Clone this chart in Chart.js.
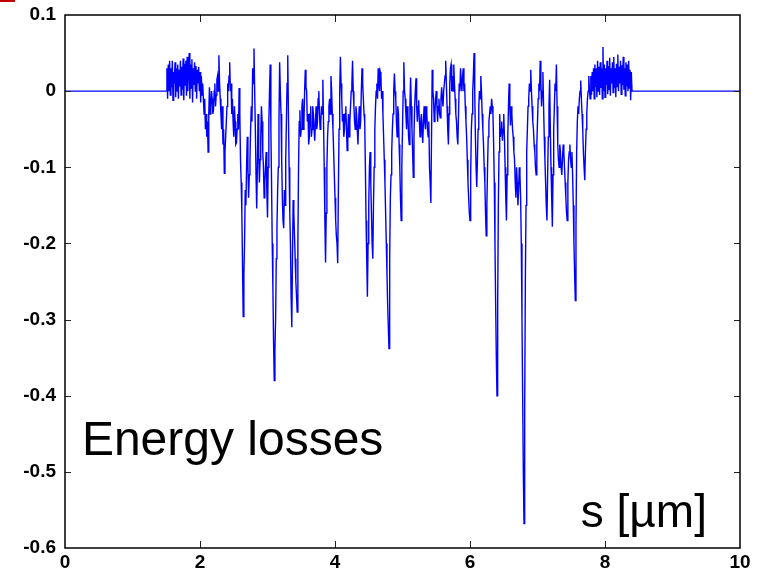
<!DOCTYPE html>
<html>
<head>
<meta charset="utf-8">
<title>Energy losses</title>
<script src="https://cdn.jsdelivr.net/npm/chart.js@4.4.0/dist/chart.umd.min.js"></script>
<style>
  html, body { margin: 0; padding: 0; background: #ffffff; }
  canvas { display: block; }
</style>
</head>
<body>
<canvas id="losses" width="758" height="579"></canvas>
<script>
// Axis ticks
const xTicks = [0, 2, 4, 6, 8, 10];
const yTicks = [0.1, 0, -0.1, -0.2, -0.3, -0.4, -0.5, -0.6];

// Flat baseline before and after the active region [s, loss]
const leadIn = [[0, 0], [1.49, 0]];
const leadOut = [[8.41, 0], [10, 0]];

// Fine ripple at the entrance, sampled every 0.01 starting at s = 1.50
const rippleInStart = 1.50;
const rippleIn = [
  0.0, 0.03, -0.01, 0.035, 0.0, 0.04, -0.005, 0.03, 0.005, 0.04,
  -0.012, 0.025, 0.01, 0.038, -0.008, 0.03, 0.0, 0.035, -0.01, 0.028,
  0.006, 0.04, -0.005, 0.032, 0.002, 0.043, -0.012, 0.036, 0.008, 0.04,
  -0.006, 0.045, 0.0, 0.03, 0.05, -0.01, 0.035, 0.004, 0.042, -0.015,
  0.03, 0.008, 0.038, 0.0, 0.033, -0.01, 0.028, 0.01, 0.032, 0.0,
  0.025, -0.015, 0.02, -0.005, 0.01
];

// Main loss profile [s, loss]
const lossProfile = [
  [2.05,-0.01],[2.06,-0.03],[2.07,-0.01],[2.08,-0.05],[2.09,-0.03],[2.10,-0.06],[2.11,-0.04],[2.12,-0.08],[2.13,-0.03],[2.14,0.005],[2.15,-0.03],
  [2.16,-0.02],[2.17,0.0],[2.18,-0.01],[2.19,-0.03],[2.20,-0.025],[2.21,0.0],[2.22,0.01],[2.23,-0.02],[2.24,-0.005],[2.25,0.015],
  [2.26,0.02],[2.27,0.0],[2.28,0.047],[2.29,0.01],[2.30,-0.01],[2.31,-0.03],[2.32,-0.05],[2.33,-0.02],[2.34,-0.07],[2.35,-0.05],
  [2.36,-0.108],[2.37,-0.08],[2.38,-0.06],[2.39,-0.04],[2.40,-0.02],[2.41,0.01],[2.42,0.0],[2.43,0.02],[2.44,0.038],[2.45,0.0],
  [2.46,0.01],[2.47,-0.03],[2.48,-0.01],[2.49,-0.04],[2.50,-0.06],[2.51,-0.02],[2.52,-0.04],[2.53,-0.07],[2.54,-0.068],[2.55,-0.05],
  [2.56,-0.03],[2.57,-0.05],[2.58,0.004],[2.59,-0.03],[2.60,-0.09],[2.61,-0.12],[2.62,-0.16],[2.63,-0.23],[2.64,-0.296],[2.65,-0.24],
  [2.66,-0.2],[2.67,-0.13],[2.68,-0.15],[2.69,-0.1],[2.70,-0.06],[2.71,-0.1],[2.72,-0.14],[2.73,-0.11],[2.74,-0.09],[2.75,-0.05],
  [2.76,-0.02],[2.77,-0.04],[2.78,0.03],[2.79,0.01],[2.80,0.056],[2.81,0.0],[2.82,-0.05],[2.83,-0.11],[2.84,-0.154],[2.85,-0.1],
  [2.86,-0.03],[2.87,-0.08],[2.88,-0.12],[2.89,-0.09],[2.90,-0.06],[2.91,-0.02],[2.92,-0.04],[2.93,-0.08],[2.94,-0.1],[2.95,-0.14],
  [2.96,-0.12],[2.97,-0.1],[2.98,-0.08],[2.99,-0.13],[3.00,-0.166],[3.01,-0.1],[3.02,-0.04],[3.03,0.0],[3.04,0.035],[3.05,-0.05],
  [3.06,-0.12],[3.07,-0.2],[3.08,-0.26],[3.09,-0.33],[3.10,-0.38],[3.11,-0.34],[3.12,-0.3],[3.13,-0.22],[3.14,-0.18],[3.15,-0.13],
  [3.16,-0.1],[3.17,-0.04],[3.18,0.038],[3.19,0.0],[3.20,-0.03],[3.21,-0.09],[3.22,-0.14],[3.23,-0.17],[3.24,-0.18],[3.25,-0.13],
  [3.26,-0.15],[3.27,-0.09],[3.28,-0.04],[3.29,0.01],[3.30,0.047],[3.31,-0.03],[3.32,-0.1],[3.33,-0.16],[3.34,-0.2],[3.35,-0.27],
  [3.36,-0.31],[3.37,-0.22],[3.38,-0.143],[3.39,-0.16],[3.40,-0.19],[3.41,-0.22],[3.42,-0.25],[3.43,-0.27],[3.44,-0.29],[3.45,-0.2],
  [3.46,-0.1],[3.47,-0.04],[3.48,-0.025],[3.49,-0.06],[3.50,-0.05],[3.51,-0.02],[3.52,-0.01],[3.53,-0.05],[3.54,-0.04],[3.55,0.0],
  [3.56,0.028],[3.57,0.005],[3.58,0.0],[3.59,-0.04],[3.60,-0.03],[3.61,-0.07],[3.62,-0.06],[3.63,-0.03],[3.64,-0.02],[3.65,-0.06],
  [3.66,-0.05],[3.67,-0.02],[3.68,-0.03],[3.69,-0.05],[3.70,-0.065],[3.71,-0.04],[3.72,-0.02],[3.73,-0.05],[3.74,-0.04],[3.75,-0.01],
  [3.76,0.0],[3.77,-0.03],[3.78,-0.05],[3.79,-0.04],[3.80,-0.02],[3.81,-0.03],[3.82,0.015],[3.83,-0.04],[3.84,-0.1],[3.85,-0.17],
  [3.86,-0.225],[3.87,-0.16],[3.88,-0.1],[3.89,-0.06],[3.90,-0.04],[3.91,-0.02],[3.92,-0.01],[3.93,-0.03],[3.94,0.02],[3.95,0.0],
  [3.96,-0.03],[3.97,-0.05],[3.98,-0.08],[3.99,-0.11],[4.00,-0.14],[4.01,-0.17],[4.02,-0.19],[4.03,-0.2],[4.04,-0.226],[4.05,-0.13],
  [4.06,-0.05],[4.07,0.0],[4.08,0.045],[4.09,0.01],[4.10,-0.01],[4.11,-0.04],[4.12,-0.03],[4.13,-0.06],[4.14,-0.05],[4.15,-0.03],
  [4.16,-0.02],[4.17,-0.05],[4.18,-0.078],[4.19,-0.05],[4.20,-0.03],[4.21,-0.06],[4.22,-0.04],[4.23,-0.02],[4.24,0.0],[4.25,0.01],
  [4.26,0.04],[4.27,0.0],[4.28,-0.02],[4.29,-0.04],[4.30,-0.05],[4.31,-0.02],[4.32,-0.03],[4.33,-0.05],[4.34,-0.07],[4.35,-0.04],
  [4.36,-0.02],[4.37,-0.05],[4.38,-0.04],[4.39,0.0],[4.40,0.03],[4.41,0.01],[4.42,-0.01],[4.43,-0.03],[4.44,-0.04],[4.45,-0.1],
  [4.46,-0.17],[4.47,-0.22],[4.48,-0.27],[4.49,-0.2],[4.50,-0.15],[4.51,-0.1],[4.52,-0.08],[4.53,-0.12],[4.54,-0.16],[4.55,-0.2],
  [4.56,-0.22],[4.57,-0.15],[4.58,-0.1],[4.59,-0.05],[4.60,-0.02],[4.61,0.0],[4.62,0.01],[4.63,-0.01],[4.64,0.03],[4.65,0.01],
  [4.66,0.0],[4.67,0.025],[4.68,0.02],[4.69,-0.01],[4.70,0.0],[4.71,-0.03],[4.72,-0.06],[4.73,-0.09],[4.74,-0.12],[4.75,-0.16],
  [4.76,-0.2],[4.77,-0.24],[4.78,-0.28],[4.79,-0.31],[4.80,-0.338],[4.81,-0.22],[4.82,-0.14],[4.83,-0.11],[4.84,-0.08],[4.85,-0.05],
  [4.86,-0.03],[4.87,0.0],[4.88,0.023],[4.89,0.0],[4.90,-0.01],[4.91,-0.04],[4.92,-0.06],[4.93,-0.02],[4.94,-0.03],[4.95,-0.07],
  [4.96,-0.1],[4.97,-0.14],[4.98,-0.17],[4.99,-0.1],[5.00,-0.05],[5.01,0.0],[5.02,0.038],[5.03,0.0],[5.04,-0.01],[5.05,-0.03],
  [5.06,-0.05],[5.07,-0.02],[5.08,-0.03],[5.09,-0.06],[5.10,-0.07],[5.11,-0.02],[5.12,0.018],[5.13,-0.02],[5.14,-0.05],[5.15,-0.08],
  [5.16,-0.113],[5.17,-0.06],[5.18,-0.02],[5.19,0.0],[5.20,0.017],[5.21,-0.02],[5.22,-0.04],[5.23,-0.02],[5.24,-0.012],[5.25,-0.04],
  [5.26,-0.06],[5.27,-0.04],[5.28,-0.03],[5.29,-0.05],[5.30,-0.068],[5.31,-0.04],[5.32,-0.02],[5.33,-0.04],[5.34,-0.05],[5.35,-0.02],
  [5.36,-0.03],[5.37,-0.05],[5.38,-0.06],[5.39,-0.04],[5.40,-0.1],[5.41,-0.12],[5.42,-0.147],[5.43,-0.06],[5.44,0.028],[5.45,0.0],
  [5.46,-0.01],[5.47,-0.04],[5.48,-0.03],[5.49,-0.01],[5.50,0.0],[5.51,-0.02],[5.52,-0.04],[5.53,-0.02],[5.54,-0.01],[5.55,-0.03],
  [5.56,-0.035],[5.57,-0.01],[5.58,0.005],[5.59,-0.01],[5.60,-0.02],[5.61,0.0],[5.62,0.01],[5.63,0.02],[5.64,0.04],[5.65,0.01],
  [5.66,-0.02],[5.67,-0.05],[5.68,-0.07],[5.69,-0.03],[5.70,0.01],[5.71,0.03],[5.72,0.035],[5.73,0.0],[5.74,0.02],[5.75,0.0],
  [5.76,0.035],[5.77,0.01],[5.78,-0.01],[5.79,-0.03],[5.80,-0.04],[5.81,-0.06],[5.82,-0.07],[5.83,-0.03],[5.84,0.01],[5.85,0.0],
  [5.86,0.03],[5.87,0.01],[5.88,0.0],[5.89,0.02],[5.90,0.03],[5.91,0.0],[5.92,0.01],[5.93,-0.02],[5.94,-0.04],[5.95,-0.06],
  [5.96,-0.09],[5.97,-0.12],[5.98,-0.14],[5.99,-0.16],[6.00,-0.17],[6.01,-0.11],[6.02,-0.05],[6.03,-0.03],[6.04,0.0],[6.05,0.02],
  [6.06,0.05],[6.07,0.0],[6.08,-0.06],[6.09,-0.1],[6.10,-0.126],[6.11,-0.09],[6.12,-0.05],[6.13,-0.02],[6.14,0.0],[6.15,-0.01],
  [6.16,0.02],[6.17,0.0],[6.18,-0.03],[6.19,-0.05],[6.20,-0.07],[6.21,-0.1],[6.22,-0.12],[6.23,-0.16],[6.24,-0.19],[6.25,-0.15],
  [6.26,-0.1],[6.27,-0.06],[6.28,-0.04],[6.29,-0.03],[6.30,-0.02],[6.31,-0.03],[6.32,-0.01],[6.33,-0.02],[6.34,-0.03],[6.35,-0.07],
  [6.36,-0.12],[6.37,-0.2],[6.38,-0.28],[6.39,-0.35],[6.40,-0.40],[6.41,-0.28],[6.42,-0.15],[6.43,-0.08],[6.44,-0.03],[6.45,-0.06],
  [6.46,-0.05],[6.47,-0.04],[6.48,-0.065],[6.49,-0.05],[6.50,-0.03],[6.51,-0.06],[6.52,-0.1],[6.53,-0.14],[6.54,-0.17],[6.55,-0.11],
  [6.56,-0.06],[6.57,-0.02],[6.58,0.01],[6.59,-0.02],[6.60,-0.045],[6.61,-0.02],[6.62,-0.03],[6.63,-0.05],[6.64,-0.06],[6.65,-0.08],
  [6.66,-0.09],[6.67,-0.12],[6.68,-0.14],[6.69,-0.1],[6.70,-0.12],[6.71,-0.15],[6.72,-0.13],[6.73,-0.1],[6.74,-0.11],[6.75,-0.14],
  [6.76,-0.2],[6.77,-0.3],[6.78,-0.4],[6.79,-0.5],[6.80,-0.568],[6.81,-0.42],[6.82,-0.25],[6.83,-0.15],[6.84,-0.08],[6.85,-0.05],
  [6.86,-0.02],[6.87,-0.01],[6.88,0.01],[6.89,0.0],[6.90,0.028],[6.91,0.0],[6.92,-0.02],[6.93,-0.04],[6.94,-0.05],[6.95,-0.07],
  [6.96,-0.08],[6.97,-0.1],[6.98,-0.11],[6.99,-0.07],[7.00,-0.04],[7.01,-0.01],[7.02,0.01],[7.03,0.0],[7.04,0.04],[7.05,0.01],
  [7.06,-0.02],[7.07,0.0],[7.08,0.025],[7.09,-0.02],[7.10,-0.06],[7.11,-0.09],[7.12,-0.12],[7.13,-0.15],[7.14,-0.17],[7.15,-0.11],
  [7.16,-0.06],[7.17,-0.02],[7.18,0.015],[7.19,-0.05],[7.20,-0.1],[7.21,-0.14],[7.22,-0.178],[7.23,-0.11],[7.24,-0.05],[7.25,-0.02],
  [7.26,0.01],[7.27,0.0],[7.28,0.035],[7.29,-0.02],[7.30,-0.07],[7.31,-0.09],[7.32,-0.1],[7.33,-0.07],[7.34,-0.08],[7.35,-0.1],
  [7.36,-0.11],[7.37,-0.09],[7.38,-0.07],[7.39,-0.08],[7.40,-0.1],[7.41,-0.12],[7.42,-0.14],[7.43,-0.16],[7.44,-0.17],[7.45,-0.12],
  [7.46,-0.09],[7.47,-0.08],[7.48,-0.07],[7.49,-0.09],[7.50,-0.1],[7.51,-0.08],[7.52,-0.11],[7.53,-0.15],[7.54,-0.2],[7.55,-0.24],
  [7.56,-0.275],[7.57,-0.18],[7.58,-0.08],[7.59,-0.04],[7.60,-0.02],[7.61,-0.03],[7.62,-0.01],[7.63,0.0],[7.64,0.014],[7.65,-0.01],
  [7.66,-0.03],[7.67,-0.05],[7.68,-0.08],[7.69,-0.1],[7.70,-0.117],[7.71,-0.08],[7.72,-0.05],[7.73,-0.03],[7.74,-0.01],[7.75,0.0],
  [7.76,0.02],[7.77,0.0]
];

// Fine ripple at the exit, sampled every 0.01 starting at s = 7.78
const rippleOutStart = 7.78;
const rippleOut = [
  -0.01, 0.02, -0.005, 0.025, 0.0, 0.03, -0.01, 0.035, 0.005, 0.03,
  -0.008, 0.04, 0.0, 0.032, -0.005, 0.038, 0.004, 0.03, -0.01, 0.058,
  0.0, 0.035, -0.008, 0.03, 0.008, 0.04, -0.004, 0.033, 0.002, 0.044,
  -0.006, 0.03, 0.01, 0.038, -0.002, 0.045, 0.004, 0.03, -0.008, 0.036,
  0.006, 0.048, 0.0, 0.032, 0.01, 0.04, -0.004, 0.034, 0.008, 0.045,
  0.002, 0.03, -0.006, 0.038, 0.006, 0.035, 0.0, 0.04, 0.004, 0.028,
  -0.012, 0.025, 0.0
];

// Assemble the single trace as {x, y} points
function ripplePoints(start, values) {
  return values.map((v, i) => ({ x: +(start + i * 0.01).toFixed(2), y: v }));
}
const pairPoints = list => list.map(([s, v]) => ({ x: s, y: v }));

const trace = [
  ...pairPoints(leadIn),
  ...ripplePoints(rippleInStart, rippleIn),
  ...pairPoints(lossProfile),
  ...ripplePoints(rippleOutStart, rippleOut),
  ...pairPoints(leadOut)
].sort((a, b) => a.x - b.x);

const FONT = '"Liberation Sans", Arial, Helvetica, sans-serif';

// Frame, inward tick marks and in-plot captions
const framePlugin = {
  id: 'frame',
  afterDraw(chart) {
    const ctx = chart.ctx;
    const { left, right, top, bottom } = chart.chartArea;
    const xs = chart.scales.x, ys = chart.scales.y;
    ctx.save();

    // inward ticks
    ctx.strokeStyle = '#222';
    ctx.lineWidth = 1;
    ctx.beginPath();
    xTicks.slice(1, -1).forEach(v => {
      const px = Math.round(xs.getPixelForValue(v)) + 0.5;
      ctx.moveTo(px, bottom); ctx.lineTo(px, bottom - 7);
      ctx.moveTo(px, top); ctx.lineTo(px, top + 7);
    });
    yTicks.slice(1, -1).forEach(v => {
      const py = Math.round(ys.getPixelForValue(v)) + 0.5;
      ctx.moveTo(left, py); ctx.lineTo(left + 6, py);
      ctx.moveTo(right, py); ctx.lineTo(right - 6, py);
    });
    ctx.stroke();

    // box
    ctx.strokeStyle = '#000';
    ctx.lineWidth = 1.5;
    ctx.strokeRect(left, top, right - left, bottom - top);

    // captions
    ctx.fillStyle = '#000';
    ctx.textBaseline = 'alphabetic';
    ctx.textAlign = 'left';
    ctx.font = '48px ' + FONT;
    ctx.fillText('Energy losses', xs.getPixelForValue(0.25), ys.getPixelForValue(-0.478));
    ctx.textAlign = 'right';
    ctx.font = '46px ' + FONT;
    ctx.fillText('s [\u00b5m]', xs.getPixelForValue(9.51), ys.getPixelForValue(-0.572));

    // small red corner mark
    ctx.fillStyle = '#c00000';
    ctx.fillRect(0, 0, 15, 2);
    ctx.restore();
  }
};

new Chart(document.getElementById('losses'), {
  type: 'line',
  data: {
    datasets: [{
      data: trace,
      borderColor: '#0000ff',
      borderWidth: 1.4,
      pointRadius: 0,
      tension: 0,
      fill: false
    }]
  },
  options: {
    responsive: false,
    animation: false,
    layout: { padding: { top: 15, right: 18, bottom: 0, left: 0 } },
    plugins: { legend: { display: false }, tooltip: { enabled: false } },
    scales: {
      x: {
        type: 'linear',
        min: 0,
        max: 10,
        afterBuildTicks: s => { s.ticks = xTicks.map(v => ({ value: v })); },
        afterFit: s => { s.height = 31; s.paddingLeft = 0; s.paddingRight = 0; },
        grid: { display: false, drawTicks: false },
        border: { display: false },
        ticks: {
          padding: 3,
          color: '#000',
          maxRotation: 0,
          font: { family: FONT, size: 19, weight: 'bold' },
          callback: v => String(v)
        }
      },
      y: {
        type: 'linear',
        min: -0.6,
        max: 0.1,
        afterBuildTicks: s => { s.ticks = yTicks.map(v => ({ value: v })); },
        afterFit: s => { s.width = 65; s.paddingTop = 0; s.paddingBottom = 0; },
        grid: { display: false, drawTicks: false },
        border: { display: false },
        ticks: {
          padding: 9,
          color: '#000',
          font: { family: FONT, size: 19, weight: 'bold' },
          callback: v => String(Number(Number(v).toFixed(1)))
        }
      }
    }
  },
  plugins: [framePlugin]
});
</script>
</body>
</html>
